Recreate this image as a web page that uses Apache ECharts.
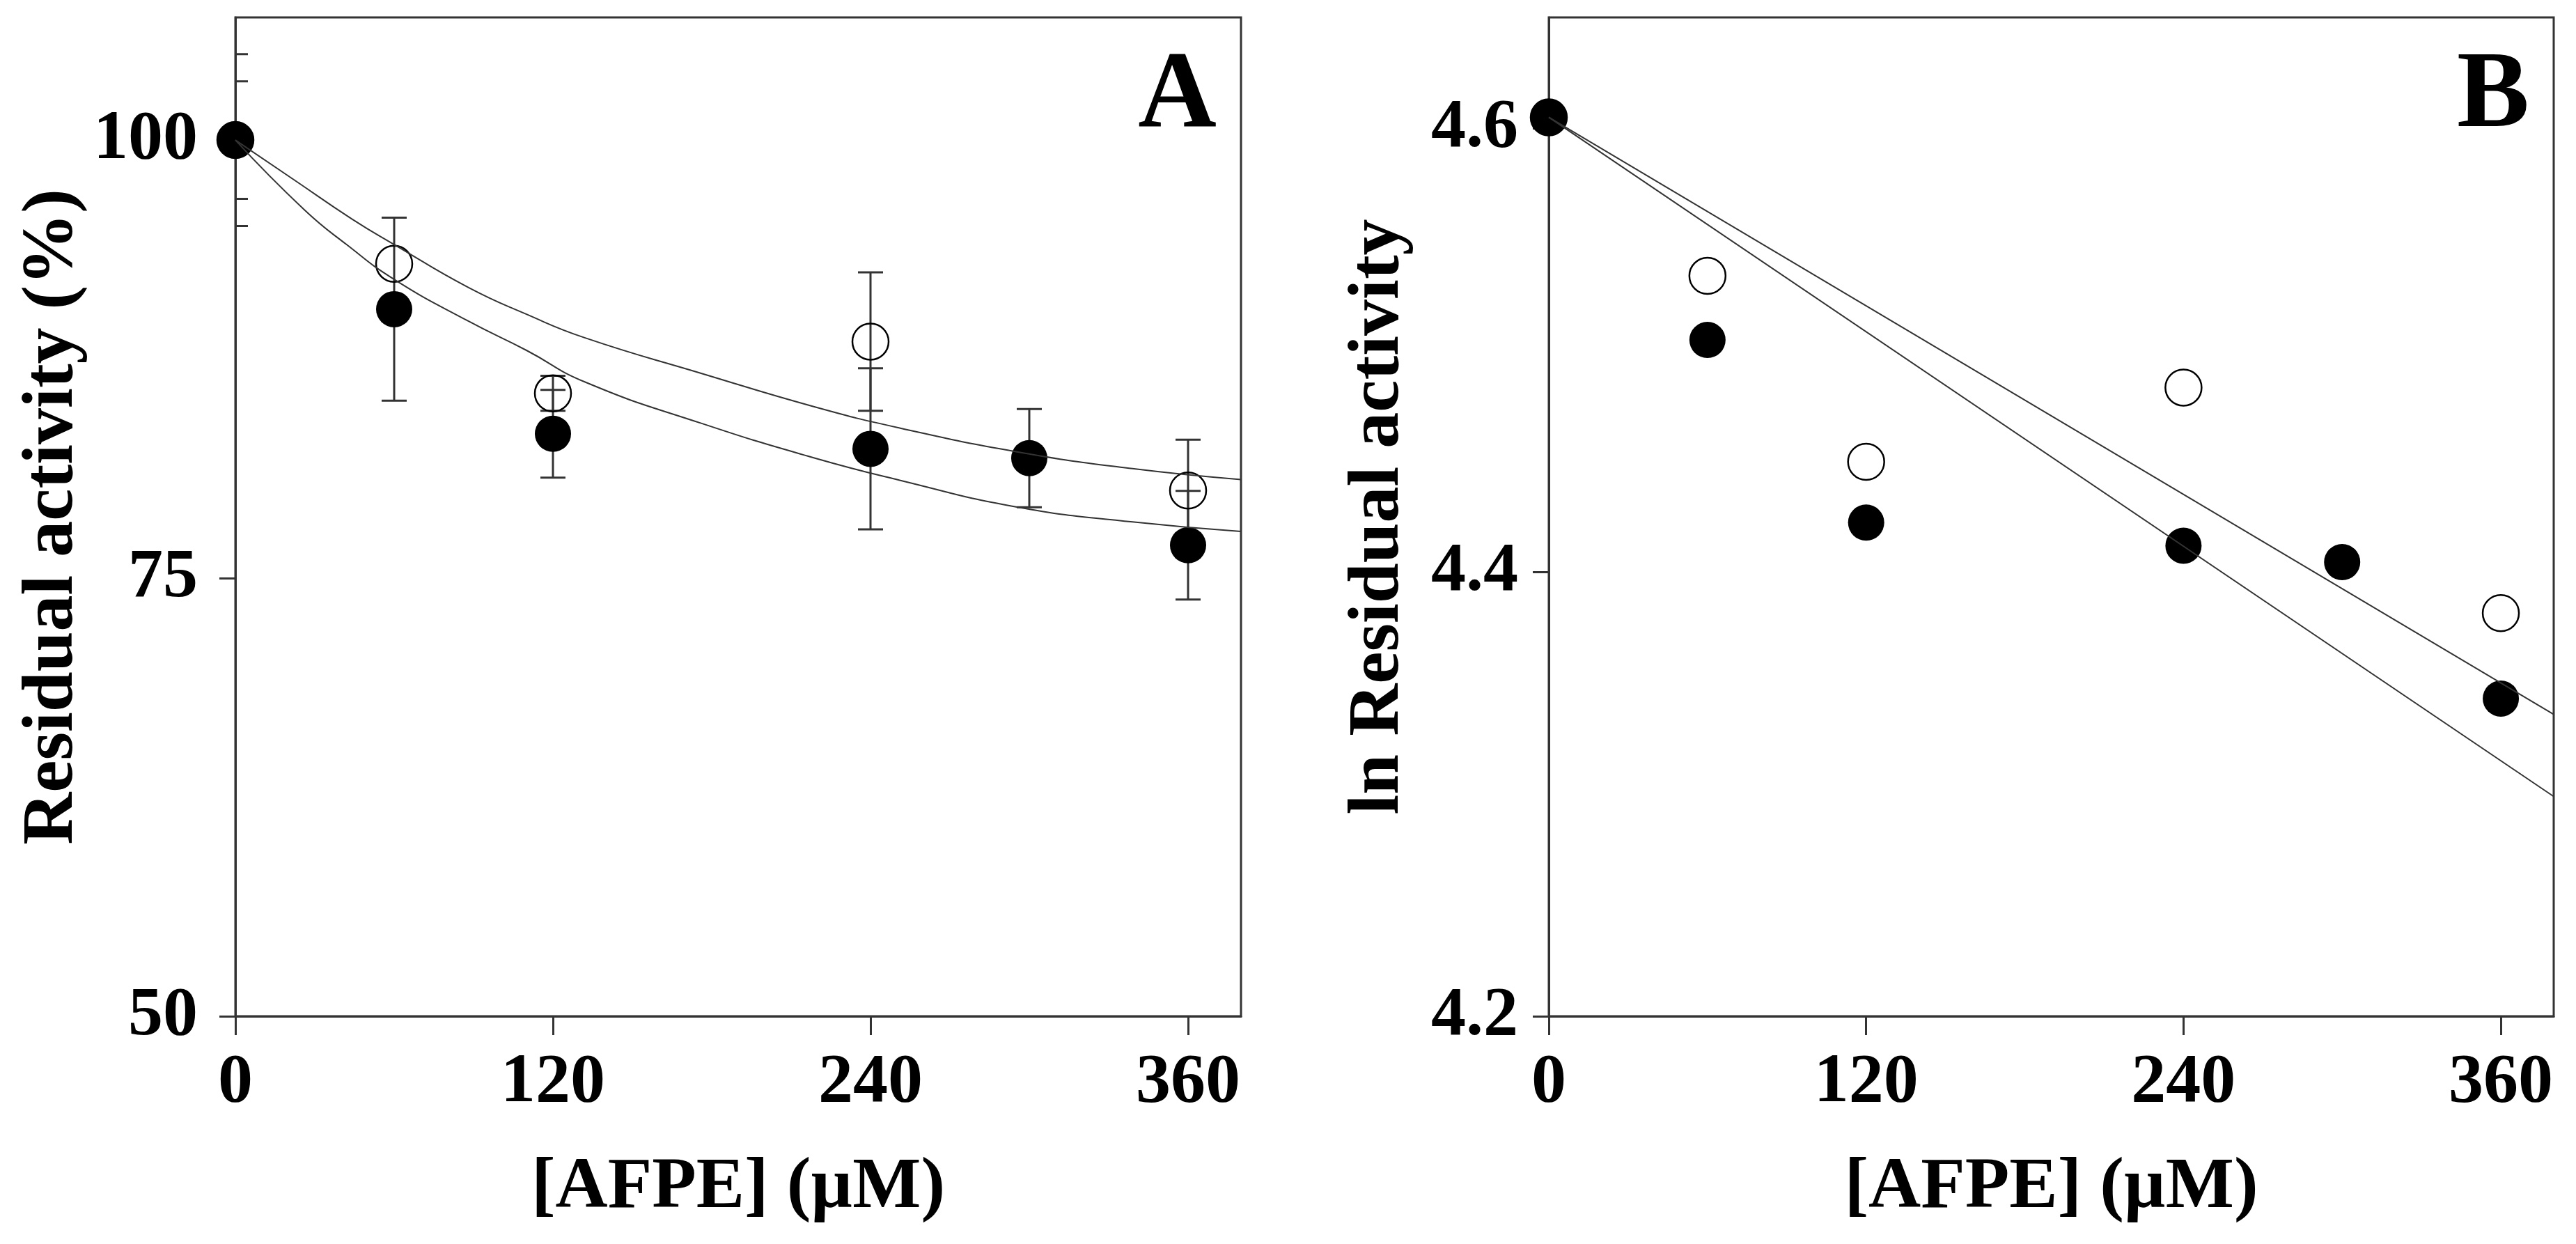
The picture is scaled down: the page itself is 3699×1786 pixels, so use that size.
<!DOCTYPE html>
<html>
<head>
<meta charset="utf-8">
<script src="https://cdn.jsdelivr.net/npm/echarts@6/dist/echarts.min.js"></script>
<style>
  html, body { margin: 0; padding: 0; background: #fff; }
  #chart { width: 3699px; height: 1786px; }
</style>
</head>
<body>
<div id="chart"></div>
<script>
// concentrations (µM)
const concFilled = [0, 60, 120, 240, 300, 360];
const concOpen = [0, 60, 120, 240, 360];

// panel A: residual activity (%)
const filledA = [100, 90.35, 83.24, 82.38, 81.85, 76.88];
const filledErrA = [4.9, 5.22, 2.5, 4.6, 2.8, 3.1];
const openA = [100, 92.94, 85.55, 88.5, 80.0];
const openErrA = [3.35, 0, 1.0, 3.95, 2.9];

// panel A fitted curves
const upperFitConc = [0, 22, 44, 60, 88, 110, 132, 176, 219, 251, 295, 339, 380];
const upperFitA = [100, 97.75, 95.5, 94.04, 91.59, 90.06, 88.72, 86.69, 84.77, 83.57, 82.22, 81.25, 80.63];
const lowerFitConc = [0, 26, 42, 60, 88, 110, 132, 176, 219, 251, 295, 339, 380];
const lowerFitA = [100, 96.03, 94.04, 92.05, 89.67, 88.0, 86.2, 83.84, 81.85, 80.59, 79.07, 78.21, 77.67];

// panel B: ln residual activity
const filledB = [4.605, 4.5047, 4.4224, 4.412, 4.4046, 4.3431];
const openB = [4.605, 4.5336, 4.4498, 4.4832, 4.3816];
const lineConcB = [0, 380];
const upperLineB = [4.605, 4.336];
const lowerLineB = [4.605, 4.299];

// tick labels
const xTicks = [0, 120, 240, 360];
const yTicksA = [50, 75, 100];
const yTicksB = [4.2, 4.4, 4.6];

const zip = (xs, ...cols) => xs.map((x, i) => [x, ...cols.map(c => c[i])]);

const font = 'Liberation Serif, Times New Roman, serif';
const ink = '#333';
const labelStyle = { fontFamily: font, fontWeight: 'bold', fontSize: 100, color: '#000' };
const nameStyle = { fontFamily: font, fontWeight: 'bold', fontSize: 104, color: '#000' };

const errorBars = (params, api) => {
  const x = api.value(0);
  const y = api.value(1);
  const e = api.value(2);
  if (!e) return null;
  const hi = api.coord([x, y + e]);
  const lo = api.coord([x, y - e]);
  const half = 18;
  const style = { stroke: ink, lineWidth: 3 };
  return {
    type: 'group',
    children: [
      { type: 'line', shape: { x1: hi[0], y1: hi[1], x2: lo[0], y2: lo[1] }, style },
      { type: 'line', shape: { x1: hi[0] - half, y1: hi[1], x2: hi[0] + half, y2: hi[1] }, style },
      { type: 'line', shape: { x1: lo[0] - half, y1: lo[1], x2: lo[0] + half, y2: lo[1] }, style },
    ],
  };
};

const xAxis = (gridIndex) => ({
  type: 'value',
  gridIndex,
  min: 0,
  max: 380,
  interval: 120,
  name: '[AFPE] (µM)',
  nameLocation: 'middle',
  nameGap: 195,
  nameTextStyle: nameStyle,
  axisLine: { show: true, lineStyle: { color: ink, width: 3 } },
  axisTick: { show: true, length: 27, customValues: xTicks, lineStyle: { color: ink, width: 3 } },
  axisLabel: { ...labelStyle, margin: 46, customValues: xTicks },
  splitLine: { show: false },
});

const yTickStyle = { show: true, length: 23, lineStyle: { color: ink, width: 3 } };

const openMark = { color: 'none', borderColor: '#000', borderWidth: 2.5, opacity: 1 };
const filledMark = { color: '#000', opacity: 1 };

const chart = echarts.init(document.getElementById('chart'));
chart.setOption({
  backgroundColor: '#fff',
  animation: false,
  grid: [
    { left: 338, top: 25, width: 1444, height: 1434, show: true, borderColor: ink, borderWidth: 3 },
    { left: 2224, top: 25, width: 1443, height: 1434, show: true, borderColor: ink, borderWidth: 3 },
  ],
  xAxis: [xAxis(0), xAxis(1)],
  yAxis: [
    {
      type: 'value',
      gridIndex: 0,
      min: 50,
      max: 107,
      interval: 25,
      name: 'Residual activity (%)',
      nameLocation: 'middle',
      nameGap: 210,
      nameTextStyle: nameStyle,
      axisLine: { show: true, lineStyle: { color: ink, width: 3 } },
      axisTick: { ...yTickStyle, customValues: yTicksA },
      axisLabel: { ...labelStyle, margin: 54, customValues: yTicksA },
      splitLine: { show: false },
    },
    {
      type: 'value',
      gridIndex: 1,
      min: 4.2,
      max: 4.65,
      interval: 0.2,
      name: 'ln Residual activity',
      nameLocation: 'middle',
      nameGap: 192,
      nameTextStyle: nameStyle,
      axisLine: { show: true, lineStyle: { color: ink, width: 3 } },
      axisTick: { ...yTickStyle, customValues: yTicksB },
      axisLabel: { ...labelStyle, margin: 44, customValues: yTicksB, formatter: v => v.toFixed(1) },
      splitLine: { show: false },
    },
  ],
  graphic: [
    { type: 'text', x: 1747, y: 141, style: { text: 'A', font: 'bold 156px ' + font, fill: '#000', textAlign: 'right', textVerticalAlign: 'middle' } },
    { type: 'text', x: 3632, y: 141, style: { text: 'B', font: 'bold 156px ' + font, fill: '#000', textAlign: 'right', textVerticalAlign: 'middle' } },
  ],
  series: [
    {
      type: 'line', xAxisIndex: 0, yAxisIndex: 0,
      data: zip(upperFitConc, upperFitA),
      smooth: 0.5, showSymbol: false,
      lineStyle: { color: ink, width: 2 },
    },
    {
      type: 'line', xAxisIndex: 0, yAxisIndex: 0,
      data: zip(lowerFitConc, lowerFitA),
      smooth: 0.5, showSymbol: false,
      lineStyle: { color: ink, width: 2 },
    },
    {
      type: 'custom', xAxisIndex: 0, yAxisIndex: 0, clip: true,
      renderItem: errorBars,
      encode: { x: 0, y: 1 },
      data: zip(concOpen, openA, openErrA),
    },
    {
      type: 'custom', xAxisIndex: 0, yAxisIndex: 0, clip: true,
      renderItem: errorBars,
      encode: { x: 0, y: 1 },
      data: zip(concFilled, filledA, filledErrA),
    },
    {
      type: 'scatter', xAxisIndex: 0, yAxisIndex: 0,
      data: zip(concOpen, openA),
      symbol: 'circle', symbolSize: 52,
      itemStyle: openMark,
    },
    {
      type: 'scatter', xAxisIndex: 0, yAxisIndex: 0,
      data: zip(concFilled, filledA),
      symbol: 'circle', symbolSize: 52,
      itemStyle: filledMark,
    },
    {
      type: 'line', xAxisIndex: 1, yAxisIndex: 1,
      data: zip(lineConcB, upperLineB),
      showSymbol: false,
      lineStyle: { color: ink, width: 2 },
    },
    {
      type: 'line', xAxisIndex: 1, yAxisIndex: 1,
      data: zip(lineConcB, lowerLineB),
      showSymbol: false,
      lineStyle: { color: ink, width: 2 },
    },
    {
      type: 'scatter', xAxisIndex: 1, yAxisIndex: 1,
      data: zip(concOpen, openB),
      symbol: 'circle', symbolSize: 52,
      itemStyle: openMark,
    },
    {
      type: 'scatter', xAxisIndex: 1, yAxisIndex: 1,
      data: zip(concFilled, filledB),
      symbol: 'circle', symbolSize: 52,
      itemStyle: filledMark,
    },
  ],
});
</script>
</body>
</html>
